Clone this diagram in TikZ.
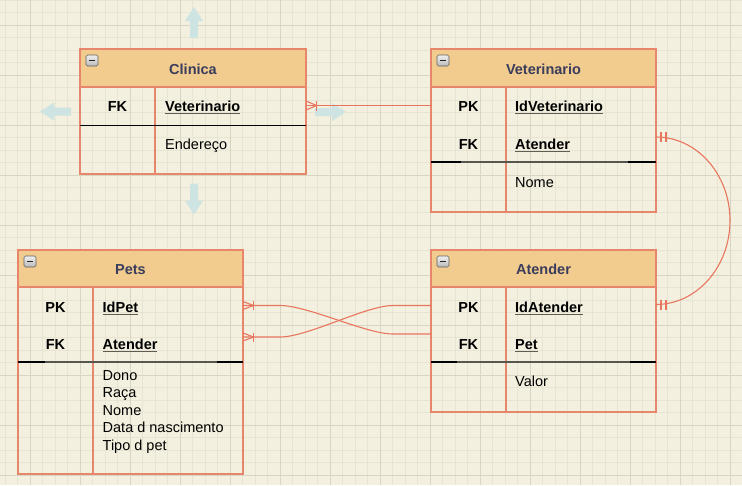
\documentclass[tikz,border=0pt]{standalone}
\usepackage{fontspec}
\setmainfont{Liberation Sans}
\usetikzlibrary{calc}
\definecolor{bg}{RGB}{243,240,223}
\definecolor{gridminor}{RGB}{232,228,211}
\definecolor{gridmajor}{RGB}{217,213,196}
\definecolor{hdr}{RGB}{242,204,142}
\definecolor{bord}{RGB}{232,134,108}
\definecolor{connc}{RGB}{232,118,94}
\definecolor{ttl}{RGB}{58,61,92}
\definecolor{arrblue}{RGB}{206,228,226}
\definecolor{ulc}{RGB}{95,92,84}
\definecolor{sepgray}{RGB}{88,86,80}
\newcommand\erfont{\fontsize{14.5}{17.5}\selectfont}
\newcommand\ulfield[1]{\setbox0\hbox{#1}\rlap{\color{ulc}\rule[-2.7pt]{\wd0}{1.2pt}}\box0}
\tikzset{
  blarrow/.pic={\fill[arrblue] (-15.5,-4) -- (1.5,-4) -- (1.5,-9) -- (15.5,0) -- (1.5,9) -- (1.5,4) -- (-15.5,4) -- cycle;},
  framebox/.style={draw=bord, line width=1.3pt, anchor=north west, inner sep=0pt, outer sep=0pt},
  hdrbox/.style={fill=hdr, draw=bord, line width=1.3pt, anchor=north west, inner sep=0pt, outer sep=0pt},
  ttltext/.style={font=\erfont\bfseries, text=ttl, anchor=base, inner sep=0pt},
  keytext/.style={font=\erfont\bfseries, anchor=base, inner sep=0pt},
  fldtext/.style={font=\erfont\bfseries, anchor=base west, inner sep=0pt},
  atttext/.style={font=\erfont, anchor=base west, inner sep=0pt},
  conn/.style={draw=connc, line width=1.1pt},
  coldiv/.style={draw=bord, line width=1.3pt},
  sepline/.style={draw=sepgray, line width=1.7pt},
  sepend/.style={draw=black, line width=1.7pt},
  minusicon/.style={rounded corners=1.5pt, top color=gray!12, bottom color=gray!55, draw=gray!75!black, line width=0.6pt},
}
\begin{document}
\begin{tikzpicture}[x=1pt,y=-1pt]
\useasboundingbox (0,0) rectangle (742,485);
\fill[bg] (0,0) rectangle (742,485);
\foreach \gx in {5,17.5,...,742} \draw[gridminor, line width=0.8pt] (\gx,0) -- (\gx,485);
\foreach \gy in {0,12.5,...,485} \draw[gridminor, line width=0.8pt] (0,\gy) -- (742,\gy);
\foreach \gx in {30,80,...,742} \draw[gridmajor, line width=1pt] (\gx,0) -- (\gx,485);
\foreach \gy in {25,75,...,485} \draw[gridmajor, line width=1pt] (0,\gy) -- (742,\gy);

% blue move arrows around Clinica
\pic[rotate=90] at (194,22.5) {blarrow};
\pic[rotate=-90] at (194,199) {blarrow};
\pic[rotate=180] at (55.5,111.5) {blarrow};
\pic at (330.5,112) {blarrow};

% ---------- Clinica ----------
\node[hdrbox, minimum width=226pt, minimum height=38pt] (clinhdr) at (80,49) {};
\node[framebox, minimum width=226pt, minimum height=125pt] (clin) at (80,49) {};
\draw[coldiv] (155,87) -- (clin.south -| 155,0);
\draw[black, line width=1pt] (clin.west |- 0,125) -- (clin.east |- 0,125);
\draw[minusicon] (86,55) rectangle (98,66);
\draw[gray!30!black, line width=1.4pt] (89,60.5) -- (95,60.5);
\node[ttltext] (clintitle) at (193,74) {Clinica};
\node[keytext] (clinfk) at (117.5,111) {FK};
\node[fldtext] (clinf1) at (165,111) {\ulfield{Veterinario}};
\node[atttext] (clina1) at (165,149) {Endereço};

% ---------- Veterinario ----------
\node[hdrbox, minimum width=225pt, minimum height=38pt] (vethdr) at (431,49) {};
\node[framebox, minimum width=225pt, minimum height=163pt] (vet) at (431,49) {};
\draw[coldiv] (506,87) -- (vet.south -| 506,0);
\draw[sepline] (vet.west |- 0,162) -- (vet.east |- 0,162);
\draw[sepend] (vet.west |- 0,162) -- ++(30,0);
\draw[sepend] (vet.east |- 0,162) -- ++(-28,0);
\draw[minusicon] (437,55) rectangle (449,66);
\draw[gray!30!black, line width=1.4pt] (440,60.5) -- (446,60.5);
\node[ttltext] (vettitle) at (543.5,74) {Veterinario};
\node[keytext] (vetpk) at (468.5,111) {PK};
\node[keytext] (vetfk) at (468.5,149) {FK};
\node[fldtext] (vetf1) at (515,111) {\ulfield{IdVeterinario}};
\node[fldtext] (vetf2) at (515,149) {\ulfield{Atender}};
\node[atttext] (veta1) at (515,187) {Nome};

% ---------- Pets ----------
\node[hdrbox, minimum width=225pt, minimum height=37pt] (petshdr) at (18,250) {};
\node[framebox, minimum width=225pt, minimum height=224pt] (pets) at (18,250) {};
\draw[coldiv] (93,287) -- (pets.south -| 93,0);
\draw[sepline] (pets.west |- 0,362) -- (pets.east |- 0,362);
\draw[sepend] (pets.west |- 0,362) -- ++(27,0);
\draw[sepend] (pets.east |- 0,362) -- ++(-26,0);
\draw[minusicon] (24,256) rectangle (36,267);
\draw[gray!30!black, line width=1.4pt] (27,261.5) -- (33,261.5);
\node[ttltext] (petstitle) at (130.5,274) {Pets};
\node[keytext] (petspk) at (55.5,312) {PK};
\node[keytext] (petsfk) at (55.5,349) {FK};
\node[fldtext] (petsf1) at (102.5,312) {\ulfield{IdPet}};
\node[fldtext] (petsf2) at (102.5,349) {\ulfield{Atender}};
\node[atttext] (petsa1) at (102.5,380) {Dono};
\node[atttext] (petsa2) at (102.5,397.5) {Raça};
\node[atttext] (petsa3) at (102.5,415) {Nome};
\node[atttext] (petsa4) at (102.5,432.5) {Data d nascimento};
\node[atttext] (petsa5) at (102.5,450) {Tipo d pet};

% ---------- Atender ----------
\node[hdrbox, minimum width=225pt, minimum height=37pt] (atdhdr) at (431,250) {};
\node[framebox, minimum width=225pt, minimum height=162pt] (atd) at (431,250) {};
\draw[coldiv] (506,287) -- (atd.south -| 506,0);
\draw[sepline] (atd.west |- 0,362) -- (atd.east |- 0,362);
\draw[sepend] (atd.west |- 0,362) -- ++(26,0);
\draw[sepend] (atd.east |- 0,362) -- ++(-26,0);
\draw[minusicon] (437,256) rectangle (449,267);
\draw[gray!30!black, line width=1.4pt] (440,261.5) -- (446,261.5);
\node[ttltext] (atdtitle) at (543.5,274) {Atender};
\node[keytext] (atdpk) at (468.5,312) {PK};
\node[keytext] (atdfk) at (468.5,349) {FK};
\node[fldtext] (atdf1) at (515,312) {\ulfield{IdAtender}};
\node[fldtext] (atdf2) at (515,349) {\ulfield{Pet}};
\node[atttext] (atda1) at (515,386) {Valor};

% ---------- connectors ----------
% Clinica -- Veterinario
\draw[conn] (clin.east |- 0,105.5) -- (vet.west |- 0,105.5);
\draw[conn] (clin.east |- 0,101) -- (316.5,105.5) -- (clin.east |- 0,110);
\draw[conn] (316.5,100.5) -- (316.5,110.5);

% Veterinario -- Atender (curve on right)
\draw[conn] (vet.east |- 0,137) .. controls (697,137) and (730,174.4) .. (730,220.5)
  .. controls (730,266.6) and (697,304.5) .. (atd.east |- 0,304.5);
\draw[conn] (661,132) -- (661,142);
\draw[conn] (666,132) -- (666,142);
\draw[conn] (661,299.5) -- (661,309.5);
\draw[conn] (666,299.5) -- (666,309.5);

% Pets -- Atender (crossing)
\draw[conn] (pets.east |- 0,305.5) -- (280,305.5) .. controls (308,305.5) and (366,334) .. (393,334) -- (atd.west |- 0,334);
\draw[conn] (pets.east |- 0,337) -- (280,337) .. controls (308,337) and (366,305.5) .. (393,305.5) -- (atd.west |- 0,305.5);
\draw[conn] (pets.east |- 0,301.5) -- (253.5,305.5) -- (pets.east |- 0,309.5);
\draw[conn] (253.5,301) -- (253.5,310);
\draw[conn] (pets.east |- 0,333) -- (253.5,337) -- (pets.east |- 0,341);
\draw[conn] (253.5,332.5) -- (253.5,341.5);
\end{tikzpicture}
\end{document}
